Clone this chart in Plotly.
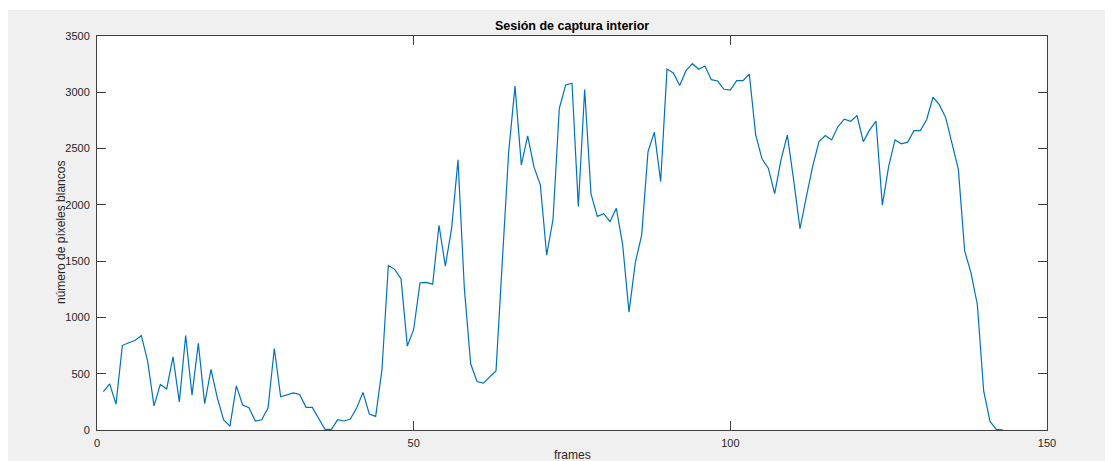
import plotly.graph_objects as go

frames = list(range(1, 144))
pixeles_blancos = [
    340, 410, 230, 750, 775, 795, 840, 610, 215, 405,
    365, 650, 250, 840, 310, 770, 235, 538, 285, 90,
    35, 392, 222, 197, 80, 91, 195, 724, 295, 316,
    330, 316, 201, 201, 106, 5, 5, 91, 80, 97,
    195, 334, 141, 121, 540, 1462, 1427, 1344, 745, 893,
    1308, 1312, 1296, 1819, 1456, 1796, 2400, 1260, 588, 431,
    416, 471, 524, 1500, 2470, 3055, 2355, 2612, 2335, 2178,
    1553, 1870, 2858, 3065, 3080, 1985, 3025, 2098, 1898, 1922,
    1852, 1970, 1645, 1047, 1487, 1731, 2472, 2646, 2207, 3206,
    3172, 3060, 3192, 3254, 3204, 3233, 3112, 3100, 3027, 3020,
    3103, 3103, 3160, 2622, 2409, 2326, 2099, 2400, 2619, 2220,
    1788, 2070, 2341, 2562, 2616, 2577, 2696, 2761, 2743, 2793,
    2562, 2666, 2743, 1998, 2341, 2577, 2542, 2557, 2660, 2659,
    2758, 2956, 2890, 2775, 2542, 2317, 1591, 1396, 1115, 347,
    76, 5, 2,
]
x_ticks = [0, 50, 100, 150]
y_ticks = [0, 500, 1000, 1500, 2000, 2500, 3000, 3500]

title_text = "Sesión de captura interior"
x_label = "frames"
y_label = "número de píxeles blancos"

FONT = "Liberation Sans, Arial, sans-serif"
TXT = "#262626"

fig = go.Figure()
fig.add_trace(go.Scatter(
    x=frames, y=pixeles_blancos, mode="lines",
    line=dict(color="#0072BD", width=1.2),
    hoverinfo="x+y", showlegend=False,
))

axis_common = dict(
    showgrid=False, zeroline=False, showline=True, linecolor="#404040",
    linewidth=1, mirror="ticks", ticks="inside", ticklen=9, tickwidth=1,
    tickcolor="#404040", tickfont=dict(family=FONT, size=11, color=TXT),
)

fig.update_xaxes(range=[0, 150], tickvals=x_ticks, ticklabelstandoff=3, **axis_common)
fig.update_yaxes(range=[0, 3500], tickvals=y_ticks, ticklabelstandoff=4, **axis_common)

# page body adds an 8px offset; work in reference pixel coordinates
OFF = 8
W, H = 1113 - OFF, 461 - OFF
L, R, T, B = 97 - OFF, 66, 36 - OFF, 31
pw, ph = W - L - R, H - T - B

def px_x(p):
    return (p - OFF - L) / pw

def px_y(p):
    return (H - B - (p - OFF)) / ph

fig.update_layout(
    width=W, height=H,
    margin=dict(l=L, r=R, t=T, b=B, pad=0),
    paper_bgcolor="#F0F0F0", plot_bgcolor="white",
    font=dict(family=FONT, size=11, color=TXT),
    shapes=[
        dict(type="rect", xref="paper", yref="paper",
             x0=px_x(0), x1=px_x(W + OFF + 5), y0=px_y(10), y1=px_y(0),
             fillcolor="white", line=dict(width=0), layer="below"),
    ],
    annotations=[
        dict(text="<b>" + title_text + "</b>", xref="paper", yref="paper",
             x=0.5, y=px_y(26), xanchor="center", yanchor="middle",
             showarrow=False, font=dict(family=FONT, size=12.5, color="#000000")),
        dict(text=x_label, xref="paper", yref="paper",
             x=0.5, y=px_y(455), xanchor="center", yanchor="middle",
             showarrow=False, font=dict(family=FONT, size=12, color=TXT)),
        dict(text=y_label, xref="paper", yref="paper",
             x=px_x(61), y=px_y(233), xanchor="center", yanchor="middle",
             textangle=-90, showarrow=False,
             font=dict(family=FONT, size=12, color=TXT)),
    ],
)

fig.write_html("out.html")
